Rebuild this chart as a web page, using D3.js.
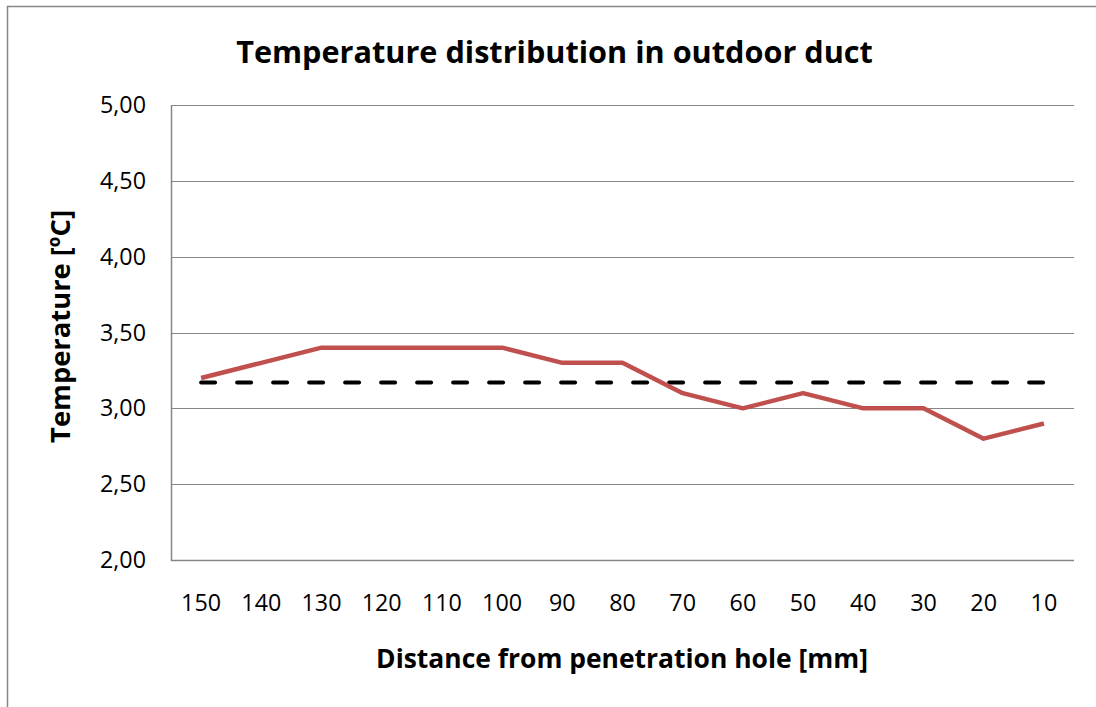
<!DOCTYPE html>
<html>
<head>
<meta charset="utf-8">
<script src="https://cdn.jsdelivr.net/npm/d3@7"></script>
<style>
  html, body { margin: 0; padding: 0; background: #fff; overflow: hidden; }
  svg { display: block; font-family: "Open Sans", sans-serif; }
</style>
</head>
<body>
<svg id="chart" width="1096" height="707"></svg>
<script>
const categories = ["150","140","130","120","110","100","90","80","70","60","50","40","30","20","10"];
const temperature = [3.2, 3.3, 3.4, 3.4, 3.4, 3.4, 3.3, 3.3, 3.1, 3.0, 3.1, 3.0, 3.0, 2.8, 2.9];
const average = [3.17, 3.17, 3.17, 3.17, 3.17, 3.17, 3.17, 3.17, 3.17, 3.17, 3.17, 3.17, 3.17, 3.17, 3.17];
const yTicks = [2.0, 2.5, 3.0, 3.5, 4.0, 4.5, 5.0];
const title = "Temperature distribution in outdoor duct";
const xTitle = "Distance from penetration hole [mm]";
const yTitle = "Temperature [\u00BAC]";

const svg = d3.select("#chart");
const plot = { left: 171, right: 1074, top: 105, bottom: 560 };

// fit a text element's font size so its rendered length equals target width
function fit(sel, target, start) {
  sel.attr("font-size", start);
  const w = sel.node().getComputedTextLength();
  sel.attr("font-size", start * target / w);
  return sel;
}

// outer chart border
svg.append("path")
  .attr("d", "M7.5,707 L7.5,6.5 L1096,6.5")
  .attr("fill", "none").attr("stroke", "#868686").attr("stroke-width", 1.5);

const x = d3.scalePoint().domain(categories)
  .range([plot.left, plot.right]).padding(0.5);
const y = d3.scaleLinear().domain([2, 5]).range([plot.bottom, plot.top]);

// gridlines
svg.append("g").selectAll("line").data(yTicks.slice(1)).join("line")
  .attr("x1", plot.left).attr("x2", plot.right)
  .attr("y1", d => Math.round(y(d)) + 0.5).attr("y2", d => Math.round(y(d)) + 0.5)
  .attr("stroke", "#868686").attr("stroke-width", 1);

// axes lines
svg.append("line")
  .attr("x1", plot.left + 0.5).attr("x2", plot.left + 0.5)
  .attr("y1", plot.top).attr("y2", plot.bottom + 1)
  .attr("stroke", "#868686").attr("stroke-width", 1.5);
svg.append("line")
  .attr("x1", plot.left).attr("x2", plot.right)
  .attr("y1", plot.bottom + 0.5).attr("y2", plot.bottom + 0.5)
  .attr("stroke", "#868686").attr("stroke-width", 1.5);

// y tick labels
const yl = svg.append("g").selectAll("text").data(yTicks).join("text")
  .attr("x", 146).attr("y", d => y(d))
  .attr("dy", "0.35em")
  .attr("text-anchor", "end")
  .attr("fill", "#000")
  .text(d => d3.format(".2f")(d).replace(".", ","));
{
  const first = d3.select(yl.nodes()[0]);
  fit(first, 46, 18);
  yl.attr("font-size", first.attr("font-size"));
}

// x tick labels
const xl = svg.append("g").selectAll("text").data(categories).join("text")
  .attr("x", d => x(d)).attr("y", 611)
  .attr("text-anchor", "middle")
  .attr("fill", "#000")
  .text(d => d);
{
  const first = d3.select(xl.nodes()[0]);
  fit(first, 40, 18);
  xl.attr("font-size", first.attr("font-size"));
}

// average dashed line
const line = d3.line().x((d, i) => x(categories[i])).y(d => y(d));
svg.append("path").datum(average)
  .attr("d", line)
  .attr("fill", "none").attr("stroke", "#000").attr("stroke-width", 4)
  .attr("stroke-dasharray", "14,22").attr("stroke-linecap", "round");

// temperature line
svg.append("path").datum(temperature)
  .attr("d", line)
  .attr("fill", "none").attr("stroke", "#C0504D").attr("stroke-width", 4.5)
  .attr("stroke-linejoin", "round");

// title
fit(svg.append("text")
  .attr("x", 554.5).attr("y", 63)
  .attr("text-anchor", "middle")
  .attr("font-weight", "bold")
  .text(title), 637, 24);

// x axis title
fit(svg.append("text")
  .attr("x", 622).attr("y", 668)
  .attr("text-anchor", "middle")
  .attr("font-weight", "bold")
  .text(xTitle), 492, 20);

// y axis title
fit(svg.append("text")
  .attr("transform", "translate(70,326.5) rotate(-90)")
  .attr("text-anchor", "middle")
  .attr("font-weight", "bold")
  .text(yTitle), 233, 20);
</script>
</body>
</html>
